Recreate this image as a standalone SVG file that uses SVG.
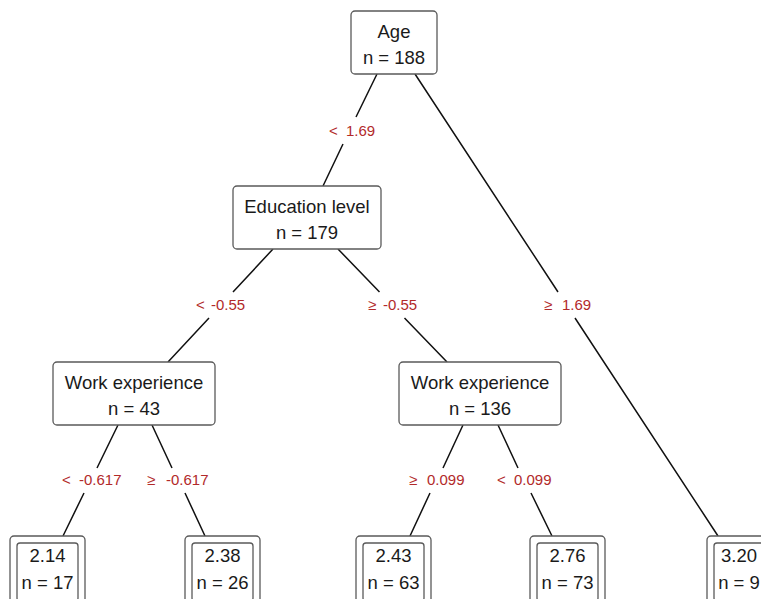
<svg xmlns="http://www.w3.org/2000/svg" width="761" height="599" viewBox="0 0 761 599">
<style>
.box{fill:#fff;stroke:#5a5a5a;stroke-width:1.3}
.nt{font-family:"Liberation Sans",Arial,sans-serif;font-size:18.5px;fill:#1a1a1a;text-anchor:middle}
.lb{font-family:"Liberation Sans",Arial,sans-serif;font-size:15px;fill:#b22a2a}
.edge{fill:none;stroke:#111;stroke-width:1.5}
</style>
<rect width="761" height="599" fill="#fff"/>
<g id="connectors">
<path class="edge" d="M377,74 L356,117 M343,144 L323,186"/>
<path class="edge" d="M415,74 L558,292 M575,318 L718,536"/>
<path class="edge" d="M273,249 L233,292 M209,318 L168,362"/>
<path class="edge" d="M338,249 L379.5,292 M404.5,318 L447,362"/>
<path class="edge" d="M118,425 L97,468 M84,493 L63,536"/>
<path class="edge" d="M152,425 L172,468 M185,493 L205,536"/>
<path class="edge" d="M463,425 L443,468 M430,493 L410,536"/>
<path class="edge" d="M498,425 L518,468 M531,493 L552,536"/>
</g>
<g id="edge-labels">
<text class="lb" y="136"><tspan x="329">&lt;</tspan> <tspan x="346">1.69</tspan></text>
<text class="lb" y="310"><tspan x="196">&lt;</tspan> <tspan x="211">-0.55</tspan></text>
<text class="lb" y="310"><tspan x="368">≥</tspan> <tspan x="383">-0.55</tspan></text>
<text class="lb" y="310"><tspan x="544">≥</tspan> <tspan x="562">1.69</tspan></text>
<text class="lb" y="485"><tspan x="62">&lt;</tspan> <tspan x="79">-0.617</tspan></text>
<text class="lb" y="485"><tspan x="147">≥</tspan> <tspan x="166">-0.617</tspan></text>
<text class="lb" y="485"><tspan x="409">≥</tspan> <tspan x="427">0.099</tspan></text>
<text class="lb" y="485"><tspan x="497">&lt;</tspan> <tspan x="514">0.099</tspan></text>
</g>
<g id="node-age">
<rect class="box" x="351" y="11" width="86" height="63" rx="4"/>
<text class="nt" x="394" y="38">Age</text>
<text class="nt" x="394" y="64">n = 188</text>
</g>
<g id="node-education">
<rect class="box" x="233" y="186" width="148" height="63" rx="4"/>
<text class="nt" x="307" y="213">Education level</text>
<text class="nt" x="307" y="239">n = 179</text>
</g>
<g id="node-work-left">
<rect class="box" x="53" y="362" width="162" height="63" rx="4"/>
<text class="nt" x="134" y="389">Work experience</text>
<text class="nt" x="134" y="415">n = 43</text>
</g>
<g id="node-work-right">
<rect class="box" x="399" y="362" width="162" height="63" rx="4"/>
<text class="nt" x="480" y="389">Work experience</text>
<text class="nt" x="480" y="415">n = 136</text>
</g>
<g id="leaf-1">
<rect class="box" x="10" y="536" width="75" height="72" rx="4"/>
<rect class="box" x="17" y="543" width="61" height="58" rx="3"/>
<text class="nt" x="47.5" y="562">2.14</text>
<text class="nt" x="47.5" y="589">n = 17</text>
</g>
<g id="leaf-2">
<rect class="box" x="185" y="536" width="75" height="72" rx="4"/>
<rect class="box" x="192" y="543" width="61" height="58" rx="3"/>
<text class="nt" x="222.5" y="562">2.38</text>
<text class="nt" x="222.5" y="589">n = 26</text>
</g>
<g id="leaf-3">
<rect class="box" x="356" y="536" width="75" height="72" rx="4"/>
<rect class="box" x="363" y="543" width="61" height="58" rx="3"/>
<text class="nt" x="393.5" y="562">2.43</text>
<text class="nt" x="393.5" y="589">n = 63</text>
</g>
<g id="leaf-4">
<rect class="box" x="530" y="536" width="75" height="72" rx="4"/>
<rect class="box" x="537" y="543" width="61" height="58" rx="3"/>
<text class="nt" x="567.5" y="562">2.76</text>
<text class="nt" x="567.5" y="589">n = 73</text>
</g>
<g id="leaf-5">
<rect class="box" x="707" y="536" width="75" height="72" rx="4"/>
<rect class="box" x="714" y="543" width="61" height="58" rx="3"/>
<text class="nt" x="739" y="562">3.20</text>
<text class="nt" x="739" y="589">n = 9</text>
</g>
</svg>
